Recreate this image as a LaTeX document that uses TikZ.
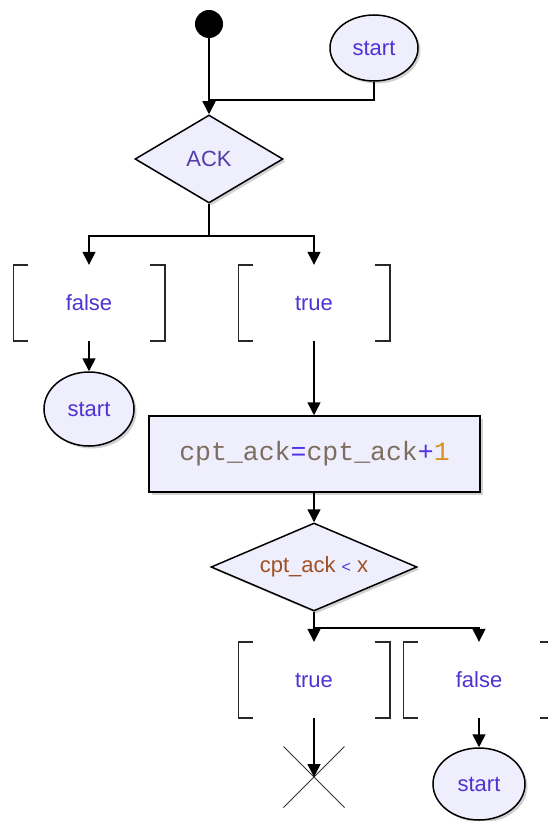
\documentclass[tikz,border=0pt]{standalone}
\usepackage{fontspec}
\setmainfont{Liberation Sans}
\newfontfamily\monofont{Liberation Mono}
\usetikzlibrary{shapes.geometric,shapes.misc,arrows.meta,shadows}
\definecolor{fillv}{RGB}{238,238,252}
\definecolor{txtv}{RGB}{80,50,210}
\definecolor{ackv}{RGB}{85,60,170}
\definecolor{codegray}{RGB}{125,110,95}
\definecolor{opblue}{RGB}{80,50,225}
\definecolor{numorange}{RGB}{215,145,35}
\definecolor{brownt}{RGB}{160,80,35}
\definecolor{brkt}{RGB}{40,40,40}
\begin{document}
\begin{tikzpicture}[x=1pt,y=-1pt,
  lbl/.style={font=\fontsize{22}{26}\selectfont},
  shad/.style={drop shadow={shadow xshift=2.5pt,shadow yshift=-2.5pt,fill=black,opacity=0.18}},
  startnode/.style={ellipse,draw=black,line width=1.5pt,fill=fillv,inner sep=0pt,shad,lbl,text=txtv},
  decis/.style={diamond,draw=black,line width=1.5pt,fill=fillv,inner sep=0pt,shad,lbl},
  guard/.style={rectangle,minimum width=151pt,minimum height=76pt,inner sep=0pt,lbl,text=txtv},
  brk/.style={draw=brkt,line width=1.6pt},
  flow/.style={draw=black,line width=1.5pt},
  arr/.style={flow,-{Triangle[width=13pt,length=13pt]}},
]
\useasboundingbox (0,0) rectangle (548,821);
\clip (0,0) rectangle (548,821);

% nodes
\node[circle,fill=black,minimum size=28pt,inner sep=0pt] (dot) at (209,24) {};
\node[startnode,minimum width=88pt,minimum height=66pt] (st1) at (374,48) {start};
\node[decis,aspect=1.68,minimum width=148pt,minimum height=88pt,text=ackv] (ack) at (209,159) {ACK};
\coordinate (j1) at (209,100);
\coordinate (s1) at (209,236);
\node[guard] (gf1) at (89,303) {false};
\node[guard] (gt1) at (314,303) {true};
\node[startnode,minimum width=90pt,minimum height=74pt] (st2) at (89,409) {start};
\node[rectangle,draw=black,line width=1.5pt,fill=fillv,shad,minimum width=331pt,minimum height=76pt,inner sep=0pt] (inc) at (314.5,454)
  {\monofont\fontsize{26.5}{30}\selectfont\textcolor{codegray}{cpt\_ack}\textcolor{opblue}{=}\textcolor{codegray}{cpt\_ack}\textcolor{opblue}{+}\textcolor{numorange}{1}};
\node[decis,aspect=2.34,minimum width=206pt,minimum height=88pt] (cmp) at (314,567)
  {\textcolor{brownt}{cpt\_ack} \textcolor{opblue}{\fontsize{16}{20}\selectfont<} \textcolor{brownt}{x}};
\coordinate (s2) at (314,628);
\node[guard] (gt2) at (314,680) {true};
\node[guard] (gf2) at (479,680) {false};
\node[cross out,draw=black!80,line width=1pt,minimum width=60pt,minimum height=60pt,inner sep=0pt] (xend) at (314,777) {};
\node[startnode,minimum width=92pt,minimum height=72pt] (st3) at (479,784) {start};

% brackets
\foreach \g in {gf1,gt1,gt2,gf2}{
  \draw[brk] ([xshift=15pt]\g.north west) -- (\g.north west) -- (\g.south west) -- ([xshift=15pt]\g.south west);
  \draw[brk] ([xshift=-15pt]\g.north east) -- (\g.north east) -- (\g.south east) -- ([xshift=-15pt]\g.south east);
}

% connectors
\draw[arr] (dot) -- (ack.north);
\draw[flow] (st1.south) |- (j1);
\draw[flow] (ack.south) -- (s1);
\draw[arr] (s1) -| (gf1.north);
\draw[arr] (s1) -| (gt1.north);
\draw[arr] (gf1.south) -- (st2.north);
\draw[arr] (gt1.south) -- (inc.north -| gt1.south);
\draw[arr] (inc.south -| cmp.north) -- (cmp.north);
\draw[flow] (cmp.south) -- (s2);
\draw[arr] (s2) -- (gt2.north);
\draw[arr] (s2) -| (gf2.north);
\draw[arr] (gt2.south) -- (xend.center);
\draw[arr] (gf2.south) -- (st3.north);
\end{tikzpicture}
\end{document}
